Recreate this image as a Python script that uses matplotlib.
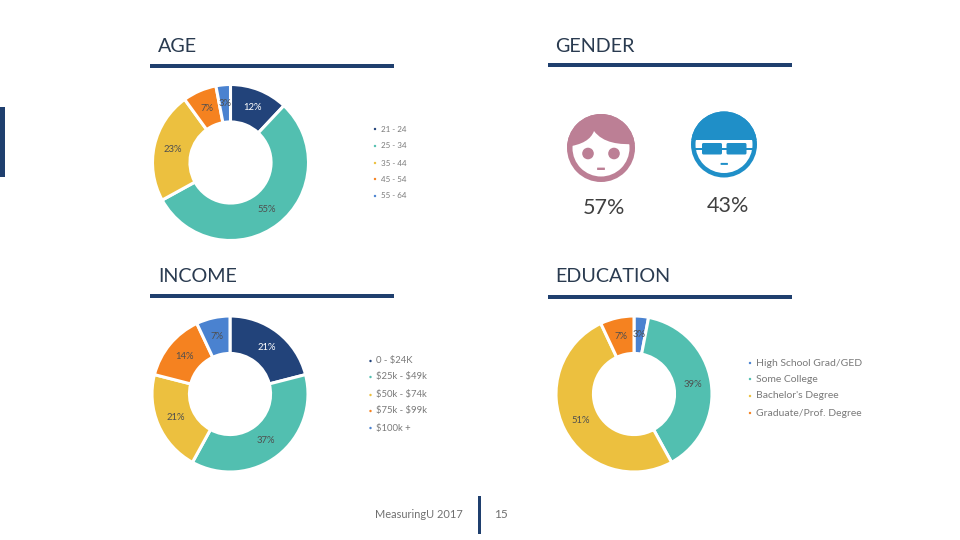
import matplotlib
matplotlib.use("Agg")
import matplotlib.pyplot as plt
from matplotlib.patches import Circle, Rectangle, PathPatch, FancyBboxPatch
from matplotlib.path import Path

plt.rcParams['font.family'] = ['Lato', 'DejaVu Sans']
plt.rcParams['text.parse_math'] = False

W, H = 960, 540
NAVY = '#1F3F6E'
TITLE = '#2A3B50'
BLUE = '#4A82D0'
TEAL = '#52BFB0'
YELLOW = '#ECC03F'
ORANGE = '#F58220'
DNAVY = '#22437A'
PINK = '#BC7F95'
SKY = '#1F8FC8'

age_labels = ['21 - 24', '25 - 34', '35 - 44', '45 - 54', '55 - 64']
age_values = [12, 55, 23, 7, 3]
age_colors = [DNAVY, TEAL, YELLOW, ORANGE, BLUE]

income_labels = ['0 - $24K', '$25k - $49k', '$50k - $74k', '$75k - $99k', '$100k +']
income_values = [21, 37, 21, 14, 7]
income_colors = [DNAVY, TEAL, YELLOW, ORANGE, BLUE]

edu_labels = ['High School Grad/GED', 'Some College', "Bachelor's Degree", 'Graduate/Prof. Degree']
edu_values = [3, 39, 51, 7]
edu_colors = [BLUE, TEAL, YELLOW, ORANGE]

gender_values = ['57%', '43%']

fig = plt.figure(figsize=(9.6, 5.4), dpi=100, facecolor='white')
bg = fig.add_axes([0, 0, 1, 1])
bg.set_xlim(0, W)
bg.set_ylim(H, 0)
bg.axis('off')


def donut(values, colors, cx, cy, r):
    ax = fig.add_axes([(cx - r) / W, 1 - (cy + r) / H, 2 * r / W, 2 * r / H])
    wedges, _, pct = ax.pie(
        values, colors=colors, startangle=90, counterclock=False, radius=1,
        autopct=lambda p: f'{round(p)}%', pctdistance=0.76,
        wedgeprops=dict(width=0.48, edgecolor='white', linewidth=2.2))
    ax.set_xlim(-1, 1)
    ax.set_ylim(-1, 1)
    for i, t in enumerate(pct):
        t.set_fontsize(6.8)
        t.set_color('white' if colors[i] == DNAVY else '#4F4F4F')
    for w in wedges:
        w.set_clip_on(False)


def legend(labels, colors, x, ys, size):
    for lab, col, y in zip(labels, colors, ys):
        bg.add_patch(Circle((x, y), 1.2, color=col, lw=0))
        bg.text(x + 6, y, lab, fontsize=size, color='#7A7A7A', va='center', ha='left')


def header(text, xt, x0, yt, yl):
    bg.text(xt, yt, text, fontsize=14.2, color=TITLE, va='center', ha='left')
    bg.add_patch(Rectangle((x0, yl - 2), 244, 4, color=NAVY, lw=0))


header('AGE', 158, 150, 46, 66)
header('GENDER', 555, 548, 46, 65)
header('INCOME', 158, 150, 277, 296)
header('EDUCATION', 555, 548, 277, 297)

donut(age_values, age_colors, 230.5, 162.5, 78)
donut(income_values, income_colors, 230, 394, 78)
donut(edu_values, edu_colors, 634, 394, 78)

legend(age_labels, age_colors, 375, [129, 146, 163, 179, 196], 5.8)
legend(income_labels, income_colors, 370.5, [361, 377, 395, 411, 428], 6.8)
legend(edu_labels, edu_colors, 750, [363, 379, 396, 413], 7.5)

# left accent bar and footer
bg.add_patch(Rectangle((0, 107), 5, 70, color=NAVY, lw=0))
bg.add_patch(Rectangle((477.5, 496), 3, 38, color=NAVY, lw=0))
bg.text(375, 515, 'MeasuringU 2017', fontsize=7.9, color='#707070', va='center', ha='left')
bg.text(494, 515, '15', fontsize=8.6, color='#707070', va='center', ha='left')

# female icon
fx, fy = 601, 148
bg.add_patch(Circle((fx, fy), 34, color=PINK, lw=0))
bg.add_patch(Circle((fx, fy), 28.5, color='white', lw=0))
hair = Path([(fx - 36, fy - 1), (fx - 18, fy - 3), (fx - 10, fy - 9), (fx - 7, fy - 17),
             (fx + 2, fy - 5), (fx + 18, fy - 3), (fx + 36, fy - 4),
             (fx + 36, fy - 36), (fx - 36, fy - 36), (fx - 36, fy - 1)],
            [Path.MOVETO, Path.CURVE4, Path.CURVE4, Path.CURVE4,
             Path.CURVE4, Path.CURVE4, Path.CURVE4,
             Path.LINETO, Path.LINETO, Path.CLOSEPOLY])
hp = PathPatch(hair, facecolor=PINK, lw=0)
bg.add_patch(hp)
hp.set_clip_path(Circle((fx, fy), 34, transform=bg.transData))
bg.add_patch(Circle((fx - 13, fy + 5.5), 5.8, color=PINK, lw=0))
bg.add_patch(Circle((fx + 13, fy + 5.5), 5.8, color=PINK, lw=0))
bg.add_patch(FancyBboxPatch((fx - 3.5, fy + 20), 7, 1.6, boxstyle='round,pad=0.4', color=PINK, lw=0))

# male icon
mx, my = 724, 144.5
bg.add_patch(Circle((mx, my), 33, color=SKY, lw=0))
bg.add_patch(Circle((mx, my), 28.5, color='white', lw=0))
mh = Rectangle((mx - 34, my - 34), 68, 29.5, color=SKY, lw=0)
bg.add_patch(mh)
mh.set_clip_path(Circle((mx, my), 33, transform=bg.transData))
for gx in (mx - 22, mx + 2.5):
    bg.add_patch(FancyBboxPatch((gx + 1.5, my + 0), 17, 8.5, boxstyle='round,pad=1.5', color=SKY, lw=0))
bg.add_patch(Rectangle((mx - 30, my + 3), 60, 2.6, color=SKY, lw=0))
bg.add_patch(FancyBboxPatch((mx - 3, my + 18.8), 6.5, 1.2, boxstyle='round,pad=0.4', color=SKY, lw=0))

bg.text(604, 208, gender_values[0], fontsize=15.5, color='#404040', ha='center', va='center')
bg.text(728, 206, gender_values[1], fontsize=15.5, color='#404040', ha='center', va='center')

fig.savefig('out.png', dpi=100, facecolor='white')
